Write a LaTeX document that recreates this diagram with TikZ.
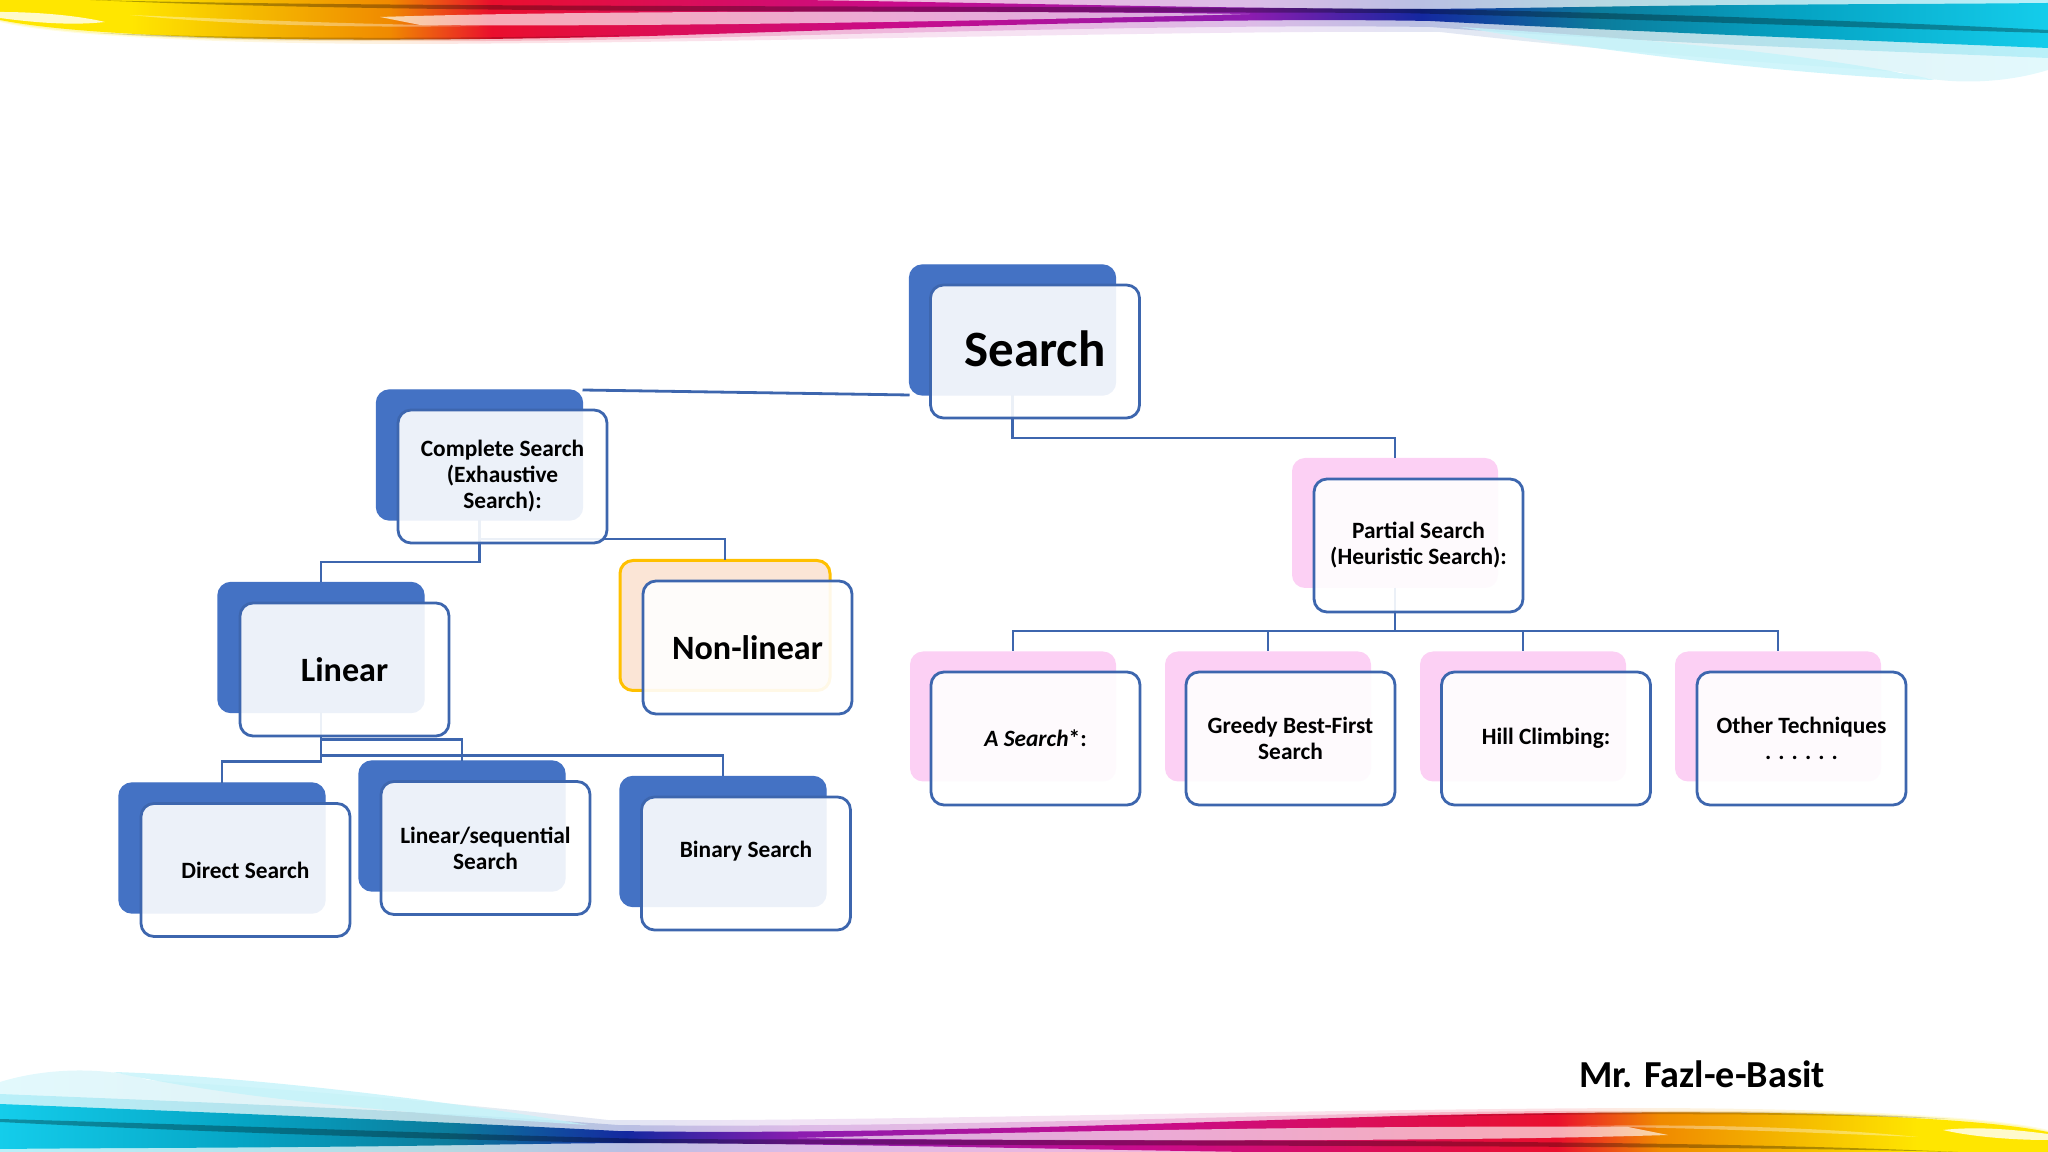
\documentclass[tikz,border=0pt]{standalone}
\usepackage{fontspec}
\setmainfont{Carlito}
\definecolor{rb1}{HTML}{FFE600}
\definecolor{rb2}{HTML}{F4B800}
\definecolor{rb3}{HTML}{F08A00}
\definecolor{rb4}{HTML}{EA0F2D}
\definecolor{rb5}{HTML}{C80C8C}
\definecolor{rb6}{HTML}{8C1CB0}
\definecolor{rb7}{HTML}{1428A0}
\definecolor{rb8}{HTML}{0C7C9C}
\definecolor{rb9}{HTML}{05A4C4}
\definecolor{rb10}{HTML}{14CDEB}
\definecolor{boxblue}{HTML}{4472C4}
\definecolor{linkblue}{HTML}{3D66AE}
\definecolor{boxpink}{HTML}{FCD0F4}
\definecolor{boxpeach}{HTML}{FBE5D6}
\definecolor{boxgold}{HTML}{FFC000}
\pgfdeclarehorizontalshading{ribbon}{100bp}{
  color(0bp)=(rb1); color(25bp)=(rb1); color(28.2bp)=(rb1); color(31.3bp)=(rb2);
  color(34.5bp)=(rb3); color(37bp)=(rb4); color(47bp)=(rb5); color(55.5bp)=(rb6);
  color(59.7bp)=(rb7); color(64bp)=(rb8); color(69bp)=(rb9); color(75bp)=(rb10); color(100bp)=(rb10)}
\tikzset{
  ribbon/.pic={
    % Pale halo
    \shade[shading=ribbon,shading angle=#1,opacity=.12] (0,0) -- (2048,0) -- (2048,70)
      .. controls (2000,85) and (1940,85) .. (1900,72)
      .. controls (1750,62) and (1600,50) .. (1440,32)
      .. controls (1200,30) and (800,42) .. (420,44)
      .. controls (200,44) and (50,35) .. (0,22) -- cycle;
    \shade[shading=ribbon,shading angle=#1,opacity=.2] (0,0) -- (2048,0) -- (2048,58)
      .. controls (1800,48) and (1600,40) .. (1430,27)
      .. controls (1200,24) and (900,33) .. (650,39)
      .. controls (500,42) and (300,42) .. (200,39)
      .. controls (100,35) and (40,30) .. (0,21) -- cycle;
    % Main band
    \shade[shading=ribbon,shading angle=#1] (0,0) -- (800,0)
      .. controls (1000,3) and (1200,8) .. (1400,9)
      .. controls (1500,9) and (1600,6) .. (1750,5)
      .. controls (1850,4) and (1950,4) .. (2048,3) -- (2048,48)
      .. controls (1800,38) and (1600,30) .. (1430,21)
      .. controls (1200,17) and (900,28) .. (650,36)
      .. controls (500,40) and (300,41) .. (200,37)
      .. controls (100,33) and (40,28) .. (0,20) -- cycle;
    % Highlights
    \fill[white,opacity=.65] (380,17) .. controls (600,10) and (1000,11) .. (1250,14)
      .. controls (1000,21) and (650,27) .. (420,25) -- cycle;
    \fill[white,opacity=.8] (0,12) .. controls (40,12) and (80,16) .. (105,22)
      .. controls (70,26) and (30,22) .. (0,18) -- cycle;
    \fill[white,opacity=.35] (130,15) .. controls (250,20) and (350,24) .. (480,26)
      .. controls (350,28) and (230,25) .. (130,15) -- cycle;
    % Dark streak
    \fill[black,opacity=.3] (90,0) .. controls (400,8) and (900,5) .. (1420,9)
      .. controls (1600,12) and (1850,20) .. (2048,30) -- (2048,33)
      .. controls (1800,26) and (1600,18) .. (1400,13)
      .. controls (900,11) and (400,14) .. (90,0) -- cycle;
    \fill[black,opacity=.18] (100,33) .. controls (250,39) and (450,39) .. (640,35)
      .. controls (450,42) and (220,42) .. (100,33) -- cycle;
    % Pale wisp
    \fill[rb10!25,opacity=.8] (1460,27) .. controls (1600,36) and (1800,50) .. (1935,80)
      .. controls (1850,78) and (1650,60) .. (1460,27) -- cycle;
  },
  backbox/.style={rounded corners=1.3mm,minimum width=20.6mm,minimum height=13mm,inner sep=0,outer sep=0},
  backblue/.style={backbox,fill=boxblue,draw=boxblue},
  backpink/.style={backbox,fill=boxpink},
  backpeach/.style={backbox,fill=boxpeach,draw=boxgold,line width=.3mm,minimum width=21mm},
  frontbox/.style={rounded corners=1.3mm,minimum width=20.9mm,minimum height=13.3mm,inner sep=0,outer sep=0,
    draw=linkblue,line width=.28mm,fill=white,fill opacity=.9,text opacity=1,align=center,
    font=\bfseries\fontsize{6.65}{7.4}\selectfont},
  link/.style={draw=linkblue,line width=.28mm},
  bigtext/.style={font=\bfseries\fontsize{9.7}{11}\selectfont},
  hugetext/.style={font=\bfseries\fontsize{14.5}{17}\selectfont,text depth=1.5pt}
}
\begin{document}
\begin{tikzpicture}[x=0.1mm,y=-0.1mm]
\useasboundingbox (0,0) rectangle (2048,1152);
% Draw ribbons
\path (0,0) pic {ribbon=0};
\path (2048,1152) pic[rotate=180] {ribbon=180};
% Draw back boxes
\node[backblue] (searchback) at (1012.5,330) {};
\node[backblue] (completeback) at (479.5,455) {};
\node[backblue] (linearback) at (321,647.5) {};
\node[backpeach] (nonlinearback) at (725,625.5) {};
\node[backblue] (directback) at (222,848) {};
\node[backblue] (sequentialback) at (462,826) {};
\node[backblue] (binaryback) at (723,841.5) {};
\node[backpink] (partialback) at (1395,523) {};
\node[backpink] (astarback) at (1013,716.5) {};
\node[backpink] (greedyback) at (1268,716.5) {};
\node[backpink] (hillback) at (1523,716.5) {};
\node[backpink] (otherback) at (1778,716.5) {};
% Draw connectors
\draw[link] (completeback.north east) -- (searchback.south west);
\draw[link] (searchback.south) -- ++(0,43) -| (partialback.north);
\draw[link] (completeback.south) -- ++(0,42) -| (linearback.north);
\draw[link] (completeback.south) -- ++(0,19) -| (nonlinearback.north);
\draw[link] (linearback.south) -- ++(0,49) -| (directback.north);
\draw[link] (linearback.south) -- ++(0,27) -| (sequentialback.north);
\draw[link] (linearback.south) -- ++(0,43) -| (binaryback.north);
\draw[link] (partialback.south) -- ++(0,43) -| (astarback.north);
\draw[link] (partialback.south) -- ++(0,43) -| (greedyback.north);
\draw[link] (partialback.south) -- ++(0,43) -| (hillback.north);
\draw[link] (partialback.south) -- ++(0,43) -| (otherback.north);
% Draw front boxes
\node[frontbox,hugetext] (search) at (1035,351.5) {Search};
\node[frontbox] (complete) at (502.5,476.5) {Complete Search\\(Exhaustive\\Search):};
\node[frontbox,bigtext] (linear) at (344.5,669.5) {Linear};
\node[frontbox,bigtext] (nonlinear) at (747.5,647.5) {Non-linear};
\node[frontbox] (direct) at (245.5,870) {Direct Search};
\node[frontbox] (sequential) at (485.5,848) {Linear/sequential\\Search};
\node[frontbox,text depth=7.8pt] (binary) at (746,863.5) {Binary Search};
\node[frontbox] (partial) at (1418.5,545.5) {Partial Search\\(Heuristic Search):};
\node[frontbox] (astar) at (1035.5,738.5) {\textit{A Search}*:};
\node[frontbox] (greedy) at (1290.5,738.5) {Greedy Best-First\\Search};
\node[frontbox] (hill) at (1546,738.5) {Hill Climbing:};
\node[frontbox] (other) at (1801.5,738.5) {Other Techniques\\. . . . . .};
% Presenter name
\node[font=\bfseries\fontsize{10.85}{13}\selectfont] (presenter) at (1702,1074) {Mr. Fazl-e-Basit};
\end{tikzpicture}
\end{document}
